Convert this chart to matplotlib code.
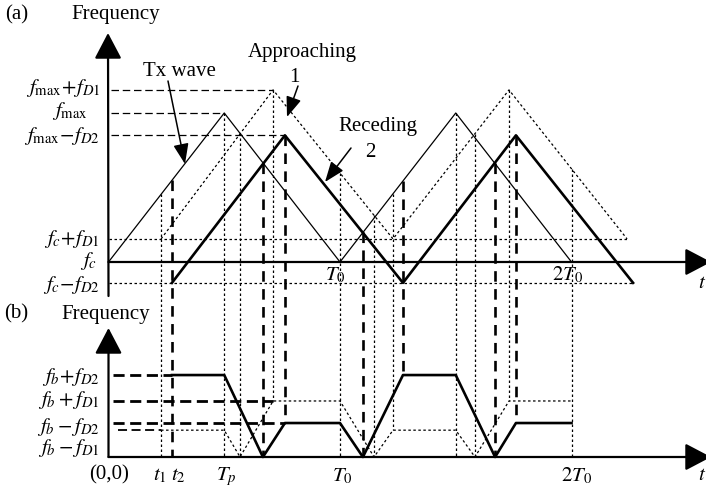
import numpy as np
import matplotlib
matplotlib.use('Agg')
import matplotlib.pyplot as plt

# time in units of T0, frequency in units of (fmax - fc), fc at 0
tx_t = [0.0, 0.5, 1.0, 1.5, 2.0]
tx_f = [0.0, 1.0, 0.0, 1.0, 0.0]
app_t = [0.227, 0.711, 1.229, 1.730, 2.240]
app_f = [0.155, 1.155, 0.155, 1.155, 0.155]
rec_t = [0.274, 0.762, 1.272, 1.760, 2.266]
rec_f = [-0.14, 0.85, -0.14, 0.85, -0.14]

# beat frequencies of panel (b), zero on the lower time axis
beat_app_t = [0.227, 0.5, 0.568, 0.711, 1.0, 1.147, 1.229, 1.5, 1.583, 1.730, 2.0]
beat_app_f = [0.18, 0.18, 0.0, 0.376, 0.376, 0.0, 0.18, 0.18, 0.0, 0.376, 0.376]
beat_rec_t = [0.274, 0.5, 0.667, 0.762, 1.0, 1.099, 1.272, 1.5, 1.670, 1.760, 2.0]
beat_rec_f = [0.55, 0.55, 0.0, 0.228, 0.228, 0.0, 0.55, 0.55, 0.0, 0.228, 0.228]

# projection lines: time, and where they stop in panel (b)
dot_t = [0.227, 0.5, 0.568, 0.711, 1.0, 1.147, 1.229, 1.5, 1.583, 1.730, 2.0]
dot_stop = [0.0, 0.0, 0.0, 0.376, 0.0, 0.0, 0.18, 0.0, 0.0, 0.376, 0.0]
dash_t = [0.274, 0.667, 0.762, 1.099, 1.272, 1.670, 1.760]
dash_stop = [0.0, 0.0, 0.228, 0.0, 0.55, 0.0, 0.228]

# reference levels: (level, end time)
top_refs = [(1.155, 0.711), (1.0, 0.5), (0.85, 0.762)]
top_labels = [r'$f_{\rm max}\!+\!f_{D1}$', r'$f_{\rm max}$', r'$f_{\rm max}\!-\!f_{D2}$',
              r'$f_c\!+\!f_{D1}$', r'$f_c$', r'$f_c\!-\!f_{D2}$']
bot_refs = [(0.55, 0.274), (0.376, 0.711), (0.228, 0.762)]
bot_labels = [r'$f_b\!+\!f_{D2}$', r'$f_b+f_{D1}$', r'$f_b-f_{D2}$', r'$f_b-f_{D1}$']

# pixel layout helpers (for text and annotation placement only)
X0, XS = 108.5, 231.5
Y0, YS = 262.0, 149.0
BASE_B = -(457 - Y0) / YS  # f value of the panel (b) time axis


def px(x, y):
    return (x - X0) / XS, (Y0 - y) / YS


plt.rcParams['font.family'] = 'Liberation Serif'
plt.rcParams['mathtext.fontset'] = 'stix'
FS = 15

fig = plt.figure(figsize=(7.06, 4.95), dpi=100)
ax = fig.add_axes([0, 0, 1, 1])
ax.set_xlim(px(0, 0)[0], px(706, 0)[0])
ax.set_ylim(px(0, 495)[1], px(0, 0)[1])
ax.axis('off')

dotted = (0, (2, 2))
K = 'black'

# (a) transmitted and received sweeps
ax.plot(tx_t, tx_f, color=K, lw=0.9)
ax.plot(app_t, app_f, color=K, lw=0.9, ls=dotted)
ax.plot(rec_t, rec_f, color=K, lw=1.9)

# fc +/- fD reference lines
ax.plot([0, app_t[-1]], [app_f[0], app_f[0]], color=K, lw=0.9, ls=dotted)
ax.plot([0, rec_t[-1]], [rec_f[0], rec_f[0]], color=K, lw=0.9, ls=dotted)
for lev, tend in top_refs:
    ax.plot([0.01, tend], [lev, lev], color=K, lw=0.9, ls=(0, (6, 3)))

# (b) beat frequencies
ax.plot(beat_app_t, BASE_B + np.array(beat_app_f), color=K, lw=0.9, ls=dotted)
ax.plot(beat_rec_t, BASE_B + np.array(beat_rec_f), color=K, lw=1.9)
for lev, tend in bot_refs:
    ax.plot([0.02, tend], [BASE_B + lev, BASE_B + lev], color=K, lw=2.0, ls=(0, (4, 2)))
ax.plot([0.04, beat_app_t[0]], [BASE_B + 0.18, BASE_B + 0.18], color=K, lw=1.3, ls=(0, (5, 2.5)))

# projection lines between the panels
for t, stop in zip(dot_t, dot_stop):
    top = max(np.interp(t, tx_t, tx_f), np.interp(t, app_t, app_f))
    ax.plot([t, t], [top, BASE_B + stop], color=K, lw=0.9, ls=dotted)
for t, stop in zip(dash_t, dash_stop):
    top = max(np.interp(t, tx_t, tx_f), np.interp(t, rec_t, rec_f))
    ax.plot([t, t], [top, BASE_B + stop], color=K, lw=1.9, ls=(0, (4, 2.8)))

# axes with arrow heads
axis_arrow = dict(arrowstyle='-|>,head_length=0.8,head_width=0.42', mutation_scale=20,
                  lw=1.6, color=K, shrinkA=0, shrinkB=0)
t_end = px(711, 0)[0]
ax.annotate('', xy=px(108, 33), xytext=(0, px(0, 296)[1]),
            arrowprops=axis_arrow, annotation_clip=False)
ax.annotate('', xy=(t_end, 0), xytext=(0, 0),
            arrowprops=axis_arrow, annotation_clip=False)
ax.annotate('', xy=(0, px(0, 328)[1]), xytext=(0, BASE_B),
            arrowprops=axis_arrow, annotation_clip=False)
ax.annotate('', xy=(t_end, BASE_B), xytext=(0, BASE_B),
            arrowprops=axis_arrow, annotation_clip=False)

# titles
ax.text(*px(5, 15), '(a)', fontsize=FS, ha='left', va='center')
ax.text(*px(116, 15), 'Frequency', fontsize=FS, ha='center', va='center')
ax.text(*px(4, 314), '(b)', fontsize=FS, ha='left', va='center')
ax.text(*px(106, 314), 'Frequency', fontsize=FS, ha='center', va='center')

# frequency labels
top_label_y = [88, 111, 136, 239, 261, 285]
top_label_x = [100, 88, 100, 100, 97, 100]
for lab, xx, yy in zip(top_labels, top_label_x, top_label_y):
    ax.text(*px(xx, yy), lab, fontsize=FS, ha='right', va='center')
bot_label_y = [377, 400, 427, 448]
for lab, yy in zip(bot_labels, bot_label_y):
    ax.text(*px(100, yy), lab, fontsize=FS, ha='right', va='center')

# time labels
ax.text(*px(346, 275), r'$T_0$', fontsize=FS, ha='right', va='center')
ax.text(*px(583, 275), r'$2T_0$', fontsize=FS, ha='right', va='center')
ax.text(*px(698, 283), r'$t$', fontsize=FS, ha='left', va='center')
ax.text(*px(109, 475), '(0,0)', fontsize=FS, ha='center', va='center')
ax.text(*px(160, 476), r'$t_1$', fontsize=FS, ha='center', va='center')
ax.text(*px(178, 476), r'$t_2$', fontsize=FS, ha='center', va='center')
ax.text(*px(226, 477), r'$T_p$', fontsize=FS, ha='center', va='center')
ax.text(*px(342, 476), r'$T_0$', fontsize=FS, ha='center', va='center')
ax.text(*px(577, 476), r'$2T_0$', fontsize=FS, ha='center', va='center')
ax.text(*px(698, 476), r'$t$', fontsize=FS, ha='left', va='center')

# callouts
call_arrow = dict(arrowstyle='-|>,head_length=0.95,head_width=0.36', mutation_scale=13,
                  lw=1.1, color=K, shrinkA=0, shrinkB=0)
ax.text(*px(179, 72), 'Tx wave', fontsize=FS, ha='center', va='center')
ax.annotate('', xy=px(185, 164), xytext=px(168, 81), arrowprops=call_arrow)
ax.text(*px(302, 52), 'Approaching', fontsize=FS, ha='center', va='center')
ax.text(*px(294, 78), '1', fontsize=FS, ha='center', va='center')
ax.annotate('', xy=px(287, 117), xytext=px(298, 86), arrowprops=call_arrow)
ax.text(*px(378, 127), 'Receding', fontsize=FS, ha='center', va='center')
ax.text(*px(370, 153), '2', fontsize=FS, ha='center', va='center')
ax.annotate('', xy=px(325, 182), xytext=px(351, 148), arrowprops=call_arrow)

fig.savefig('out.png', dpi=100)
